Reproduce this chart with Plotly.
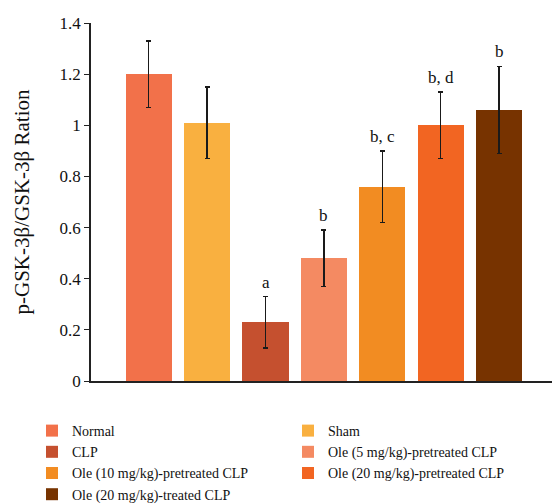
import plotly.graph_objects as go

groups = ["Normal", "Sham", "CLP", "Ole (5 mg/kg)-pretreated CLP",
          "Ole (10 mg/kg)-pretreated CLP", "Ole (20 mg/kg)-pretreated CLP",
          "Ole (20 mg/kg)-treated CLP"]
values = [1.20, 1.01, 0.23, 0.48, 0.76, 1.00, 1.06]
errors = [0.13, 0.14, 0.10, 0.11, 0.14, 0.13, 0.17]
letters = ["", "", "a", "b", "b, c", "b, d", "b"]
colors = ["#F2714A", "#F9B040", "#C5502F", "#F48A62", "#F28C22", "#F26522", "#773300"]

FONT = "Liberation Serif"

fig = go.Figure()
for i, g in enumerate(groups):
    fig.add_trace(go.Bar(
        x=[i], y=[values[i]], name=g, width=0.79,
        marker=dict(color=colors[i], line=dict(width=0)),
        error_y=dict(type="data", array=[errors[i]], visible=True,
                     color="#1a1a1a", thickness=1.5, width=2.5),
    ))
    if letters[i]:
        fig.add_annotation(x=i, y=values[i] + errors[i], text=letters[i],
                           showarrow=False, yanchor="bottom", yshift=3,
                           font=dict(family=FONT, size=17, color="#111"))

fig.update_layout(
    width=552, height=504,
    margin=dict(l=91, r=0, t=23, b=123, autoexpand=False),
    plot_bgcolor="white", paper_bgcolor="white",
    bargap=0,
    font=dict(family=FONT, size=14, color="#111"),
    showlegend=True,
    legend=dict(orientation="h", x=-0.128, xanchor="left", y=-0.095, yanchor="top",
                entrywidth=211, entrywidthmode="pixels",
                font=dict(family=FONT, size=14, color="#111"),
                tracegroupgap=0, traceorder="normal"),
)
fig.update_xaxes(range=[-0.988, 6.906], showticklabels=False, ticks="",
                 showline=True, linecolor="#222", linewidth=1.5, showgrid=False,
                 zeroline=False)
fig.update_yaxes(range=[0, 1.4], dtick=0.2, tick0=0, ticks="outside", ticklen=5,
                 tickcolor="#222", showline=True, linecolor="#222", linewidth=1.5,
                 showgrid=False, zeroline=False,
                 tickfont=dict(family=FONT, size=17),
                 title=dict(text="p-GSK-3β/GSK-3β Ration",
                            font=dict(family=FONT, size=21), standoff=24))

fig.write_html("out.html")
